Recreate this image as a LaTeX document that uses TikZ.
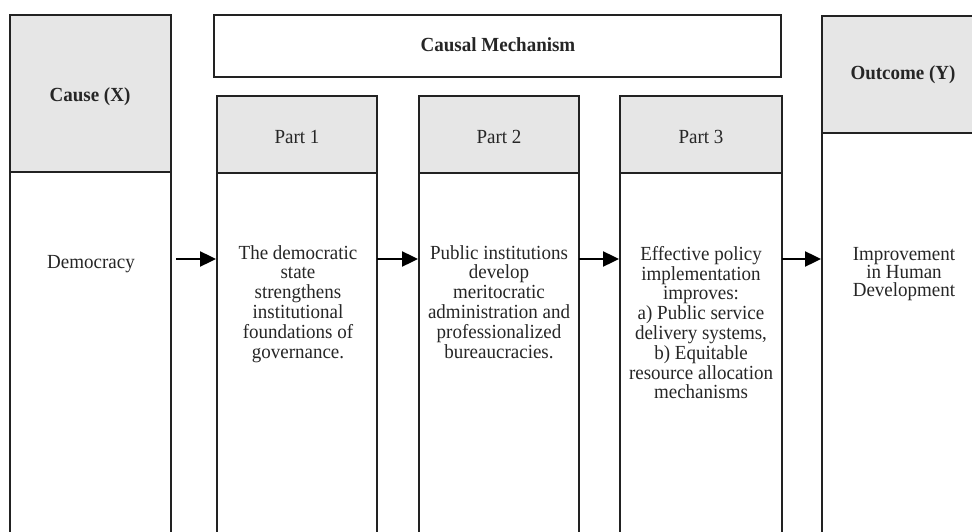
\documentclass[tikz,border=0pt]{standalone}
\usepackage{fontspec}
\setmainfont{Liberation Serif}[FakeStretch=0.95]
\usetikzlibrary{arrows.meta}
\definecolor{hdr}{HTML}{E6E6E6}
\definecolor{ink}{HTML}{262626}
\definecolor{edge}{HTML}{222222}
\begin{document}
\begin{tikzpicture}[x=1pt,y=-1pt,
  colbox/.style={draw=edge, line width=1.4pt, anchor=north west, inner sep=0pt, outer sep=0pt},
  hdrbox/.style={colbox, fill=hdr},
  txt/.style={text=ink, font=\fontsize{20}{19.8}\selectfont, align=center, inner sep=0pt},
  btxt/.style={text=ink, font=\fontsize{20}{19.8}\selectfont\bfseries, align=center, inner sep=0pt},
  arr/.style={-{Triangle[length=16pt,width=15pt]}, line width=2.4pt, draw=black}]
\useasboundingbox (0,0) rectangle (972,532);
\clip (0,0) rectangle (972,532);
% Cause column
\node[hdrbox, minimum width=161pt, minimum height=157pt] (causeh) at (10,15) {};
\node[colbox, minimum width=161pt, minimum height=380pt] (causeb) at (10,172) {};
\node[btxt] (causet) at (90,97) {Cause (X)};
\node[txt, anchor=base] (dem) at (91,268) {Democracy};
% Mechanism header
\node[colbox, minimum width=567pt, minimum height=62pt] (mech) at (214,15) {};
\node[btxt] (mecht) at (498,45) {Causal Mechanism};
% Part 1
\node[hdrbox, minimum width=160pt, minimum height=77pt] (p1h) at (217,96) {};
\node[colbox, minimum width=160pt, minimum height=380pt] (p1b) at (217,173) {};
\node[txt] (p1t) at (297,137) {Part 1};
\node[txt, anchor=north] (p1x) at (298,245) {The democratic\\state\\strengthens\\institutional\\foundations of\\governance.};
% Part 2
\node[hdrbox, minimum width=160pt, minimum height=77pt] (p2h) at (419,96) {};
\node[colbox, minimum width=160pt, minimum height=380pt] (p2b) at (419,173) {};
\node[txt] (p2t) at (499,137) {Part 2};
\node[txt, anchor=north] (p2x) at (499,245) {Public institutions\\develop\\meritocratic\\administration and\\professionalized\\bureaucracies.};
% Part 3
\node[hdrbox, line width=1.9pt, minimum width=162pt, minimum height=77pt] (p3h) at (620,96) {};
\node[colbox, minimum width=162pt, minimum height=380pt] (p3b) at (620,173) {};
\node[txt] (p3t) at (701,137) {Part 3};
\node[txt, anchor=north] (p3x) at (701,246) {Effective policy\\implementation\\improves:\\a) Public service\\delivery systems,\\b) Equitable\\resource allocation\\mechanisms};
% Outcome column
\node[hdrbox, minimum width=170pt, minimum height=117pt] (outh) at (822,16) {};
\node[colbox, minimum width=170pt, minimum height=420pt] (outb) at (822,133) {};
\node[btxt] (outt) at (903,75) {Outcome (Y)};
\node[txt, anchor=north, font=\fontsize{20}{18}\selectfont] (outx) at (904,247) {Improvement\\in Human\\Development};
% Arrows
\draw[arr, shorten <=5pt, shorten >=1pt] (causeb.east |- 0,259) -- (p1b.west |- 0,259);
\draw[arr, shorten >=1pt] (p1b.east |- 0,259) -- (p2b.west |- 0,259);
\draw[arr, shorten >=1pt] (p2b.east |- 0,259) -- (p3b.west |- 0,259);
\draw[arr, shorten >=1pt] (p3b.east |- 0,259) -- (outb.west |- 0,259);
\end{tikzpicture}
\end{document}
